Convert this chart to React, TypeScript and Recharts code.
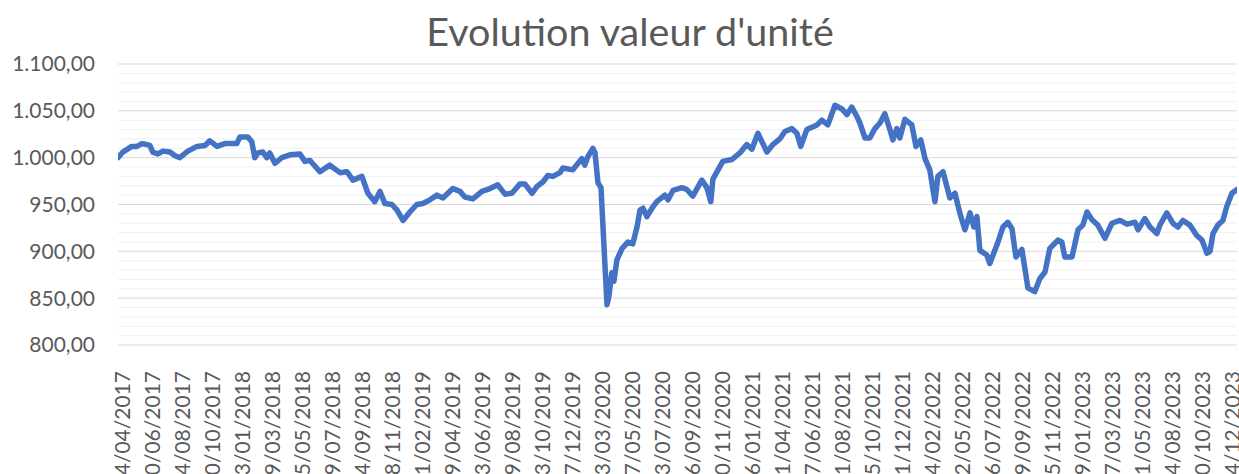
import { LineChart, Line, XAxis, YAxis, CartesianGrid, ReferenceLine } from "recharts";

// dates printed under the axis, one every period
const tickLabels = [
    "14/04/2017", "20/06/2017", "24/08/2017", "30/10/2017", "03/01/2018", "09/03/2018",
    "15/05/2018", "19/07/2018", "24/09/2018", "28/11/2018", "01/02/2019", "09/04/2019",
    "13/06/2019", "19/08/2019", "23/10/2019", "27/12/2019", "03/03/2020", "07/05/2020",
    "13/07/2020", "16/09/2020", "20/11/2020", "26/01/2021", "01/04/2021", "07/06/2021",
    "11/08/2021", "15/10/2021", "21/12/2021", "24/02/2022", "02/05/2022", "06/07/2022",
    "09/09/2022", "15/11/2022", "19/01/2023", "27/03/2023", "31/05/2023", "04/08/2023",
    "10/10/2023", "14/12/2023",
];

// position of each reading, in label periods since 14/04/2017
const positions = [
    -0.13, 0.03, 0.33, 0.5, 0.67, 0.83, 0.93, 1.03, 1.2, 1.37, 1.6, 1.77, 1.93, 2.2, 2.5, 2.77,
    2.93, 3.17, 3.43, 3.83, 3.93, 4.2, 4.33, 4.43, 4.53, 4.7, 4.83, 4.93, 5.1, 5.33, 5.6, 5.93,
    6.1, 6.27, 6.6, 6.93, 7.27, 7.5, 7.7, 8.0, 8.2, 8.43, 8.6, 8.77, 9.0, 9.17, 9.37, 9.6, 9.83,
    10.03, 10.27, 10.5, 10.7, 11.03, 11.27, 11.43, 11.7, 12.0, 12.27, 12.53, 12.77, 13.0, 13.27,
    13.43, 13.67, 13.83, 14.03, 14.2, 14.37, 14.6, 14.7, 15.03, 15.33, 15.43, 15.53, 15.7, 15.77,
    15.87, 15.97, 16.03, 16.17, 16.23, 16.33, 16.4, 16.5, 16.67, 16.87, 17.03, 17.17, 17.27,
    17.37, 17.5, 17.67, 17.83, 18.1, 18.2, 18.37, 18.67, 18.83, 19.03, 19.33, 19.5, 19.63, 19.7,
    20.03, 20.33, 20.6, 20.83, 21.0, 21.2, 21.5, 21.7, 21.93, 22.1, 22.33, 22.5, 22.63, 22.83,
    23.17, 23.33, 23.53, 23.77, 24.0, 24.17, 24.33, 24.5, 24.6, 24.77, 24.93, 25.1, 25.27, 25.43,
    25.6, 25.7, 25.83, 25.93, 26.1, 26.33, 26.47, 26.63, 26.77, 26.93, 27.1, 27.2, 27.37, 27.6,
    27.77, 27.93, 28.1, 28.27, 28.4, 28.5, 28.6, 28.83, 28.93, 29.17, 29.37, 29.53, 29.67, 29.8,
    30.0, 30.2, 30.43, 30.6, 30.77, 30.93, 31.2, 31.33, 31.43, 31.67, 31.87, 32.03, 32.17, 32.33,
    32.53, 32.77, 33.0, 33.27, 33.5, 33.77, 33.87, 34.1, 34.27, 34.5, 34.6, 34.83, 35.03, 35.2,
    35.37, 35.6, 35.83, 36.0, 36.17, 36.27, 36.37, 36.53, 36.7, 36.83, 37.0, 37.17,
];

// valeur d'unité at each position
const values = [
    1000, 1006, 1012, 1012, 1015, 1014, 1013, 1006, 1004, 1007, 1006, 1002, 1000, 1007, 1012, 1013,
    1018, 1012, 1015, 1015, 1022, 1022, 1017, 1000, 1005, 1006, 1000, 1005, 994, 1000, 1003, 1004,
    996, 997, 985, 992, 984, 985, 976, 980, 962, 953, 964, 951, 950, 944, 933, 942, 950,
    951, 955, 960, 957, 967, 964, 958, 956, 964, 967, 971, 961, 962, 972,
    972, 962, 969, 974, 981, 980, 984, 989, 987, 999, 992, 1001, 1010, 1005,
    973, 968, 930, 843, 851, 877, 868, 891, 903, 910, 908, 926, 944,
    946, 937, 946, 953, 960, 955, 965, 968, 966, 959, 976, 968, 953, 977,
    996, 998, 1005, 1014, 1009, 1026, 1006, 1014, 1020, 1028, 1031, 1026, 1012, 1030,
    1035, 1040, 1035, 1056, 1052, 1046, 1054, 1044, 1037, 1021, 1021, 1031, 1037, 1047,
    1030, 1019, 1031, 1021, 1041, 1035, 1012, 1019, 999, 987, 953, 980, 985, 957,
    962, 941, 923, 941, 926, 937, 901, 896, 887, 907, 926, 931, 924, 894,
    902, 861, 857, 871, 878, 903, 912, 910, 894, 894, 923, 928, 942, 934,
    928, 914, 930, 933, 929, 931, 923, 935, 926, 919, 928, 941, 930, 926,
    933, 928, 917, 912, 898, 900, 919, 928, 933, 948, 962, 966,
];

const yTicks = [800, 850, 900, 950, 1000, 1050, 1100];
const minorLines = [810, 820, 830, 840, 860, 870, 880, 890, 910, 920, 930, 940, 960, 970, 980, 990,
    1010, 1020, 1030, 1040, 1060, 1070, 1080, 1090];

const data = positions.map((p, i) => ({ t: p, valeur: values[i] }));
const tickIdx = tickLabels.map((_, i) => i);

const FONT = "Lato, 'Open Sans', sans-serif";
const GREY = "#595959";

function fmt(v: number) {
    const s = v.toFixed(2).replace(".", ",");
    const [a, b] = s.split(",");
    return a.replace(/\B(?=(\d{3})+(?!\d))/g, ".") + "," + b;
}

function DateTick(props: any) {
    const { x, y, payload } = props;
    return (
        <text
            transform={`translate(${x},${y + 18}) rotate(-90)`}
            textAnchor="end"
            dominantBaseline="central"
            fill={GREY}
            fontSize={21}
            fontFamily={FONT}
        >
            {tickLabels[payload.value]}
        </text>
    );
}

export default function App() {
    return (
        <div style={{ position: "absolute", left: 0, top: 0, width: 1239, height: 474, background: "#fff", overflow: "hidden" }}>
            <div
                style={{
                    position: "absolute",
                    left: 630,
                    top: 7,
                    transform: "translateX(-50%)",
                    whiteSpace: "nowrap",
                    fontFamily: FONT,
                    fontSize: 39.5,
                    lineHeight: "48px",
                    color: GREY,
                }}
            >
                Evolution valeur d'unité
            </div>
            <LineChart width={1239} height={474} data={data} margin={{ top: 64, right: 2, left: 0, bottom: 0 }}>
                {minorLines.map((v) => (
                    <ReferenceLine key={v} y={v} stroke="#f0f0f0" strokeWidth={1} />
                ))}
                <CartesianGrid vertical={false} stroke="#d9d9d9" />
                <XAxis
                    dataKey="t"
                    type="number"
                    domain={[-0.13, 37.17]}
                    ticks={tickIdx}
                    interval={0}
                    allowDataOverflow
                    axisLine={false}
                    tickLine={false}
                    height={129}
                    tick={<DateTick />}
                />
                <YAxis
                    domain={[800, 1100]}
                    ticks={yTicks}
                    width={118}
                    axisLine={false}
                    tickLine={false}
                    tickSize={0}
                    tickMargin={23}
                    tickFormatter={fmt}
                    tick={{ fill: GREY, fontSize: 21, fontFamily: FONT }}
                />
                <Line
                    type="linear"
                    dataKey="valeur"
                    stroke="#4472C4"
                    strokeWidth={5.5}
                    strokeLinejoin="round"
                    strokeLinecap="round"
                    dot={false}
                    isAnimationActive={false}
                />
            </LineChart>
        </div>
    );
}
